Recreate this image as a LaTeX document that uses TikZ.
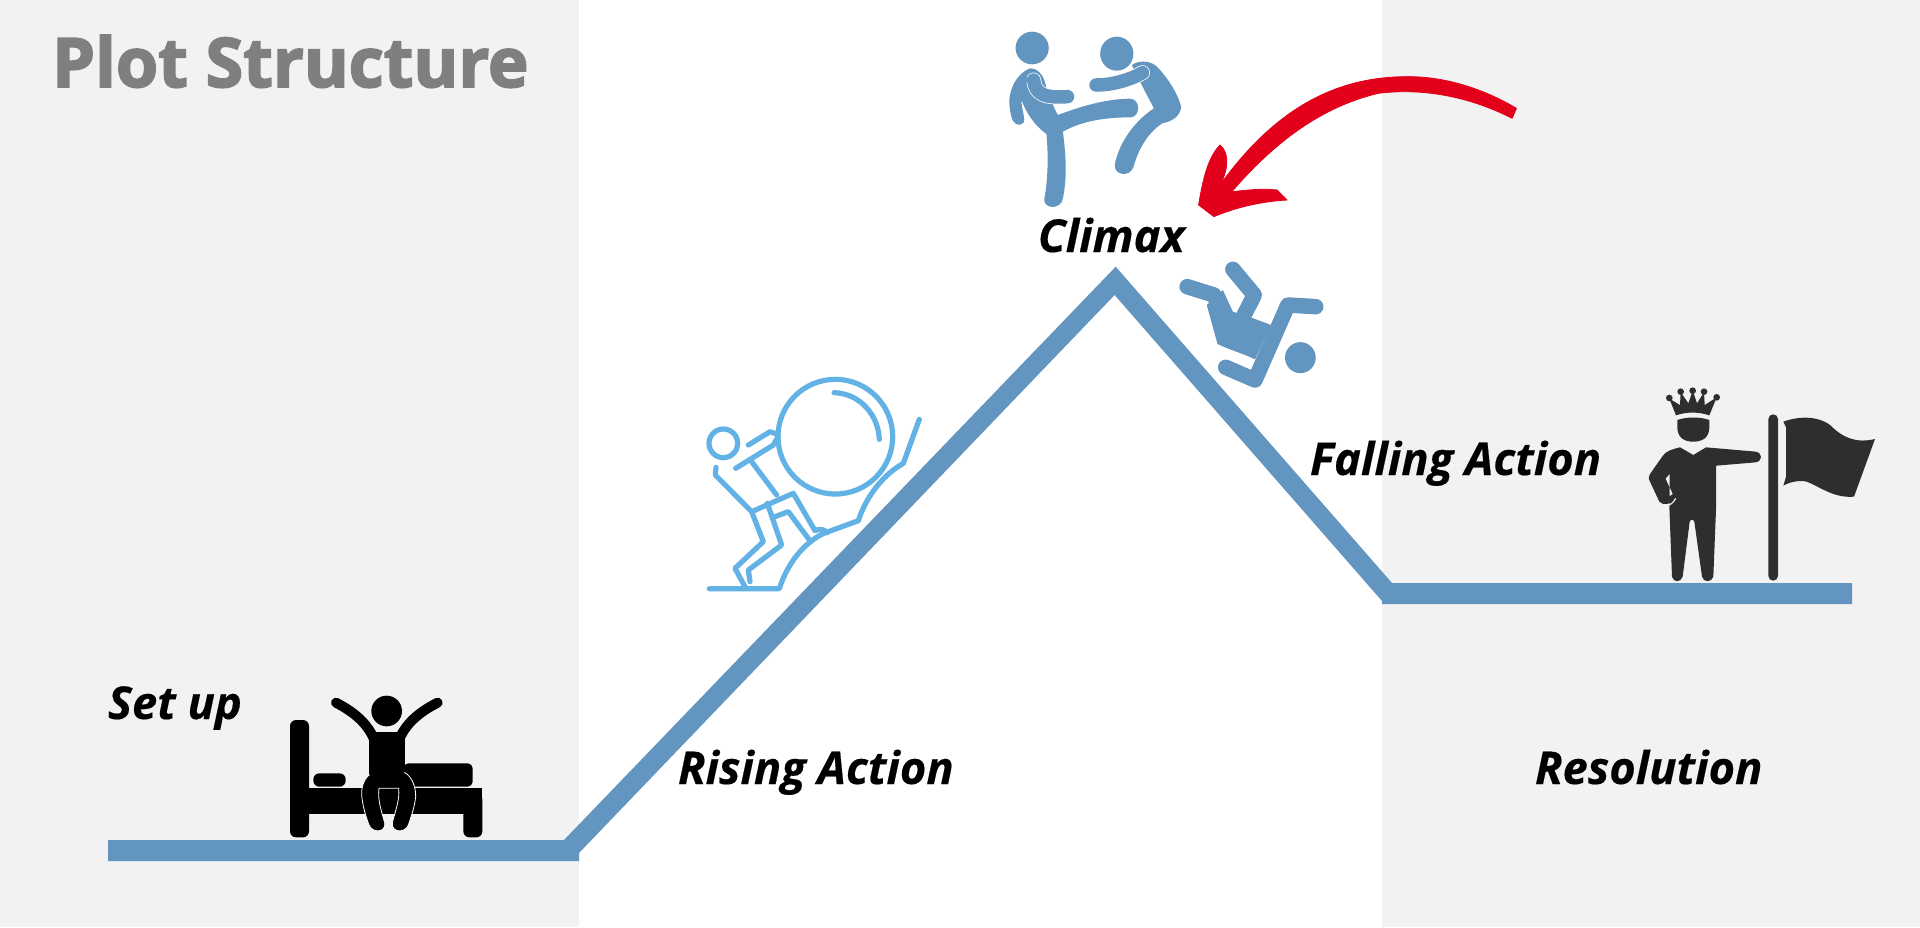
\documentclass[tikz,border=0pt]{standalone}
\usepackage{fontspec}
\setmainfont{Open Sans}[BoldItalicFeatures={FakeBold=0.35}]
\newfontfamily\titlefont{Open Sans}[BoldFeatures={FakeBold=2.6}]
\definecolor{band}{HTML}{6295BF}
\definecolor{panel}{HTML}{F2F2F2}
\definecolor{sky}{HTML}{62B2E6}
\definecolor{king}{HTML}{2E2E2E}
\definecolor{redarrow}{HTML}{E2001A}
\definecolor{titlegray}{HTML}{7F7F7F}
\tikzset{
  lab/.style={anchor=base west,inner sep=0pt,outer sep=0pt,font=\fontsize{45.3}{45.3}\selectfont\bfseries\itshape,text=black},
  sk/.style={draw=sky,line width=5.2pt,line cap=round,line join=round},
  fallstroke/.style={draw=band,line width=15.5pt,line cap=round,line join=round},
}
\begin{document}
\begin{tikzpicture}[x=1pt,y=-1pt]
\useasboundingbox (0,0) rectangle (1920,927);
\fill[white] (0,0) rectangle (1920,927);
\fill[panel] (0,0) rectangle (579,927);
\fill[panel] (1382,0) rectangle (1920,927);
% plot line
\fill[band] (108,840)--(564,840)--(1115.7,266.7)--(1392,583)--(1852,583)--(1852,604)--(1382,604)--(1382,601)--(1114.6,295)--(579,853)--(579,861)--(108,861)--cycle;
% title and labels
\node[anchor=base west,inner sep=0pt,text=titlegray,font=\titlefont\fontsize{68.3}{68.3}\selectfont\bfseries] (title) at (52,87) {Plot Structure};
\node[lab] (setup) at (108,719) {Set up};
\node[lab] (rising) at (678,784) {Rising Action};
\node[lab] (climax) at (1038,252) {Climax};
\node[lab] (falling) at (1310,475) {Falling Action};
\node[lab] (resolution) at (1535,784) {Resolution};
% fighters
\begin{scope}[shift={(980,0)},xscale=0.35714,yscale=0.33333]
\fill[band] (146,144) ellipse [x radius=46.5,y radius=49];
\fill[band] (383,161) ellipse [x radius=46.5,y radius=51];
\fill[band] (140,205) .. controls (105,220) and (85,260) .. (82,300) .. controls (82,330) and (88,355) .. (92,362) .. controls (100,380) and (125,378) .. (124,358) .. controls (122,340) and (116,320) .. (116,298) .. controls (125,330) and (150,375) .. (186,402) .. controls (192,470) and (190,540) .. (180,598) .. controls (178,628) and (228,630) .. (232,595) .. controls (245,530) and (240,460) .. (232,395) .. controls (290,360) and (360,352) .. (422,352) .. controls (450,350) and (450,297) .. (420,296) .. controls (350,297) and (280,320) .. (218,345) .. controls (205,320) and (195,290) .. (185,260) .. controls (180,230) and (165,205) .. (140,205) -- cycle;
\draw[white,line width=15pt,line cap=round,line join=round] (150,240) .. controls (155,280) and (175,295) .. (245,290);
\fill[band] (116,230) -- (132,222) -- (128,300) -- (116,298) -- cycle;
\draw[band,line width=13.5pt,line cap=round,line join=round] (150,240) .. controls (155,280) and (175,295) .. (245,290);
\fill[band] (425,195) .. controls (445,180) and (480,180) .. (500,205) .. controls (530,240) and (555,285) .. (563,320) .. controls (562,350) and (535,365) .. (510,370) .. controls (475,395) and (445,440) .. (430,500) .. controls (420,535) and (370,525) .. (378,490) .. controls (390,430) and (430,365) .. (487,325) -- (460,270) -- cycle;
\draw[white,line width=15pt,line cap=round,line join=round] (325,255) .. controls (370,255) and (420,240) .. (455,218);
\draw[band,line width=13.5pt,line cap=round,line join=round] (325,255) .. controls (370,255) and (420,240) .. (455,218);
\end{scope}
% faller
\begin{scope}[shift={(980,0)},xscale=0.35714,yscale=0.33333]
\fill[band] (897,1073) ellipse [x radius=43,y radius=46.5];
\fill[band] (635,915) -- (665,1032) .. controls (700,1050) and (740,1062) .. (770,1078) -- (815,975) -- (765,955) -- (708,935) -- (680,870) -- cycle;
\draw[fallstroke] (580,860) -- (655,885) -- (685,960);
\draw[fallstroke] (708,808) -- (768,885) -- (730,965);
\draw[fallstroke] (940,920) -- (862,915) -- (770,1140) -- (688,1102);
\end{scope}
% Sisyphus
\begin{scope}[shift={(680,360)},scale=0.33333]
\draw[sk] (466,230) circle (172);
\draw[sk] (462,98) .. controls (540,100) and (595,165) .. (598,238);
\draw[sk] (130,250) circle (43);
\draw[sk] (108,322) -- (106,345) -- (215,455) -- (340,400) -- (405,512) .. controls (420,505) and (432,508) .. (442,518);
\draw[sk] (167,325) -- (280,255) -- (295,228);
\draw[sk] (205,255) -- (270,215) -- (290,222);
\draw[sk] (215,305) -- (290,405);
\draw[sk] (215,455) -- (250,545) -- (165,625) -- (195,680);
\draw[sk] (262,430) -- (305,555) -- (205,630) -- (210,665);
\draw[sk] (285,470) -- (325,455) -- (392,545);
\draw[sk] (88,686) -- (298,686) .. controls (325,600) and (385,535) .. (445,515) -- (535,482) .. controls (555,420) and (600,350) .. (670,310) -- (718,178);
\end{scope}
% bed
\begin{scope}[shift={(270,680)},scale=0.33333]
\fill[black,rounded corners=6pt] (60,120) rectangle (117,472);
\fill[black,rounded corners=6pt] (580,340) rectangle (637,472);
\fill[black] (100,323) rectangle (637,403);
\fill[black,rounded corners=6pt] (130,280) rectangle (227,320);
\fill[black,rounded corners=5pt] (400,250) rectangle (608,320);
\fill[black] (350,93) circle (46);
\fill[black] (297,155) rectangle (405,300);
\draw[black,line width=10pt,line cap=round] (198,68) .. controls (250,95) and (295,130) .. (315,185);
\draw[black,line width=10pt,line cap=round] (503,68) .. controls (450,95) and (405,130) .. (385,185);
\filldraw[fill=black,draw=white,line width=0.8pt] (297,285) .. controls (280,300) and (272,325) .. (276,355) .. controls (280,385) and (288,410) .. (296,432) .. controls (305,462) and (350,458) .. (344,428) .. controls (335,395) and (322,360) .. (327,325) -- (386,325) .. controls (390,360) and (375,395) .. (367,428) .. controls (362,458) and (408,462) .. (416,432) .. controls (425,405) and (434,380) .. (437,350) .. controls (438,320) and (425,290) .. (405,278) -- cycle;
\fill[black] (299,270) rectangle (403,320);
\end{scope}
% king and flag
\begin{scope}[shift={(1630,370)},scale=0.33333]
\fill[king] (138,136) -- (118,86) -- (150,105) -- (152,66) -- (175,100) -- (188,62) -- (201,100) -- (222,66) -- (224,105) -- (260,82) -- (238,136) .. controls (205,125) and (170,125) .. (138,136) -- cycle;
\foreach \p in {(118,84),(152,65),(188,62),(222,65),(260,82)} \fill[king] \p circle (10);
\fill[king] (142,150) .. controls (170,140) and (210,140) .. (238,150) -- (238,175) .. controls (236,205) and (215,215) .. (190,215) .. controls (165,215) and (144,205) .. (142,175) -- cycle;
\fill[king] (118,300) -- (118,410) -- (126,620) .. controls (130,638) and (152,638) .. (158,620) -- (179,455) .. controls (182,447) and (190,447) .. (193,455) -- (216,620) .. controls (220,638) and (245,638) .. (250,620) -- (258,420) -- (258,287) -- (378,277) .. controls (398,272) and (398,250) .. (378,245) -- (228,232) -- (190,255) -- (150,232) -- cycle;
\fill[king] (150,232) .. controls (125,238) and (105,245) .. (98,258) -- (60,312) .. controls (55,320) and (55,325) .. (60,335) -- (88,395) .. controls (100,410) and (128,402) .. (135,380) -- (150,300) -- cycle;
\fill[panel] (119,312) -- (107,326) -- (128,372) -- (119,378) -- cycle;
\draw[panel,line width=1.2pt] (137,385) .. controls (130,398) and (122,405) .. (108,408);
\fill[king,rounded corners=4.8pt] (415,133) rectangle (444,632);
\fill[king] (460,155) .. controls (500,140) and (560,135) .. (600,165) .. controls (640,205) and (680,220) .. (735,207) -- (672,380) .. controls (610,385) and (570,350) .. (530,335) .. controls (510,330) and (480,335) .. (460,347) -- (468,320) -- (468,172) -- cycle;
\end{scope}
% red arrow
\begin{scope}[shift={(980,0)},xscale=0.35714,yscale=0.33333]
\filldraw[fill=redarrow,draw=redarrow,line width=0.8pt,line join=round] (1502,325) .. controls (1400,260) and (1290,228) .. (1190,230) .. controls (1000,232) and (830,320) .. (672,555) .. controls (695,510) and (700,460) .. (672,435) .. controls (640,470) and (625,530) .. (612,615) -- (655,650) .. controls (710,625) and (780,605) .. (860,600) -- (832,570) .. controls (790,565) and (750,570) .. (705,575) .. controls (830,420) and (960,320) .. (1115,280) .. controls (1250,262) and (1380,295) .. (1490,355) -- cycle;
\end{scope}
\end{tikzpicture}
\end{document}
